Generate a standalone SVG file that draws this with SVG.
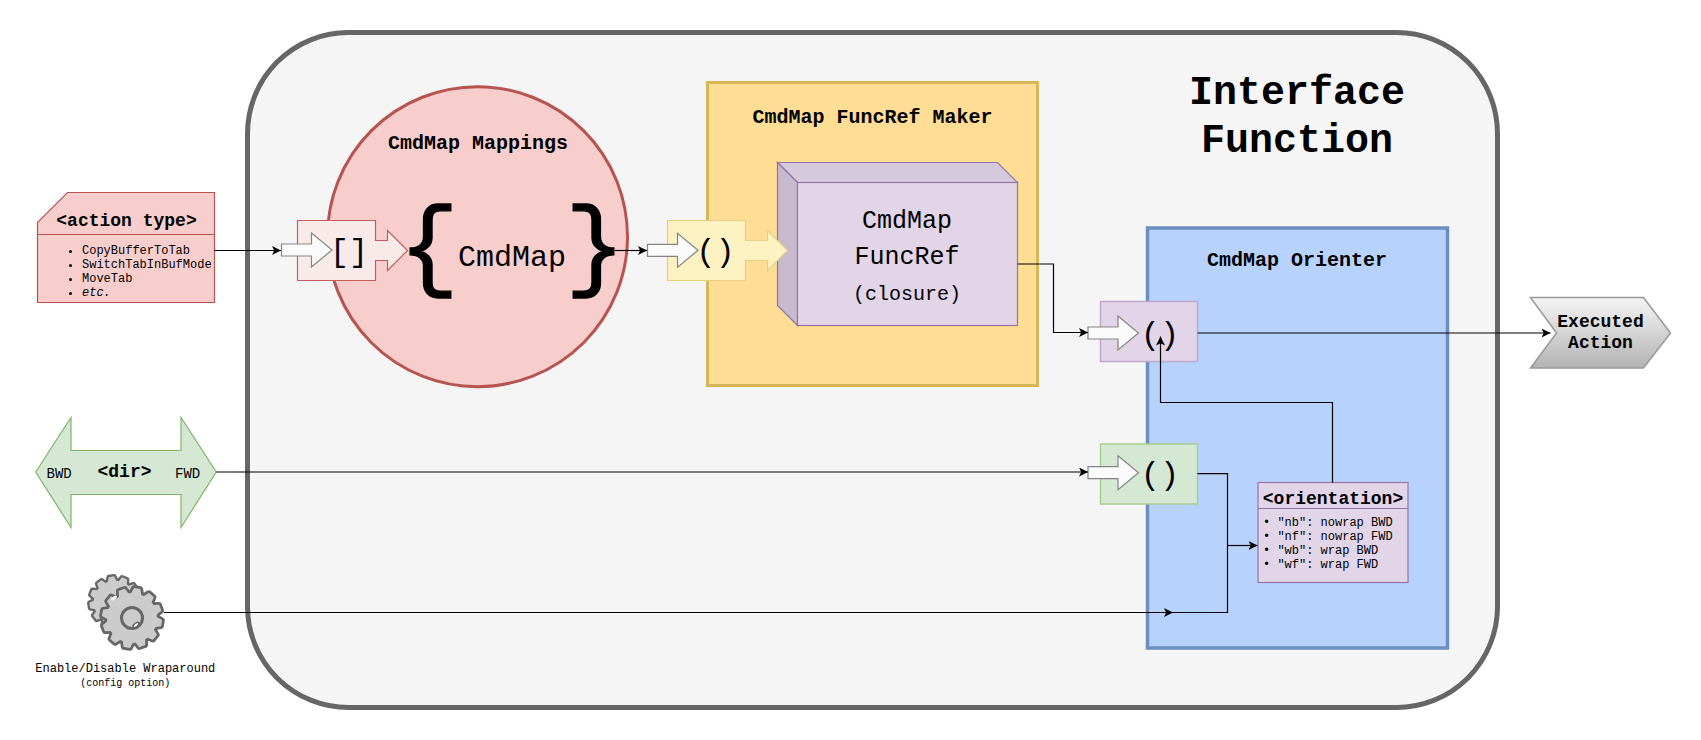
<svg xmlns="http://www.w3.org/2000/svg" xmlns:xlink="http://www.w3.org/1999/xlink" width="1701" height="740" viewBox="0 0 1701 740">
<style>
text{font-family:"Liberation Mono",monospace;fill:#000}
.b{font-weight:bold}
.m{text-anchor:middle}
.s{font-size:12px}
.h{font-size:18px;font-weight:bold}
.t{font-size:20px;font-weight:bold;text-anchor:middle}
.br{font-size:100px;text-anchor:middle;stroke:#000;stroke-width:1.3}
.c{fill:none;stroke:#000;stroke-width:1.2}
.a{marker-end:url(#ah)}
.w{fill:#fbfbfb;stroke:#858585;stroke-width:1.2}
.gs{fill:#666;stroke:#666;stroke-width:5.5;stroke-linejoin:round}
.gf{fill:#ccc;stroke:none}
</style>
<defs>
<marker id="ah" markerUnits="userSpaceOnUse" markerWidth="9" markerHeight="9" refX="9" refY="4.5" orient="auto" viewBox="0 0 9 9"><path d="M9,4.5 L0,0 L2.2,4.5 L0,9 z" fill="#000"/></marker>
<linearGradient id="grey" x1="0" y1="0" x2="0" y2="1"><stop offset="0" stop-color="#f5f5f5"/><stop offset="1" stop-color="#b3b3b3"/></linearGradient>
<polygon id="white-arrow" points="0,-6 30,-6 30,-17 50.5,0 30,17 30,6 0,6"/>
<polygon id="tooth" points="-5.2,-24 -3.2,-30 3.2,-30 5.2,-24"/>
<g id="gear12">
<circle r="25"/>
<use href="#tooth" transform="rotate(10)"/><use href="#tooth" transform="rotate(40)"/><use href="#tooth" transform="rotate(70)"/><use href="#tooth" transform="rotate(100)"/><use href="#tooth" transform="rotate(130)"/><use href="#tooth" transform="rotate(160)"/><use href="#tooth" transform="rotate(190)"/><use href="#tooth" transform="rotate(220)"/><use href="#tooth" transform="rotate(250)"/><use href="#tooth" transform="rotate(280)"/><use href="#tooth" transform="rotate(310)"/><use href="#tooth" transform="rotate(340)"/>
</g>
</defs>

<g id="interface-function">
<rect x="247.5" y="32.5" width="1250" height="675" rx="101" ry="101" fill="#f5f5f5" stroke="#666" stroke-width="5"/>
<text class="b m" font-size="40" x="1297" y="104">Interface</text>
<text class="b m" font-size="40" x="1297" y="152">Function</text>
</g>

<g id="cmdmap-mappings">
<circle cx="477.5" cy="236.7" r="150" fill="#f8cecc" stroke="#b85450" stroke-width="3"/>
<text class="t" x="478" y="149">CmdMap Mappings</text>
<text class="m" font-size="30" x="512" y="266">CmdMap</text>
<text class="br" x="429" y="277">{</text>
<text class="br" x="595" y="277">}</text>
</g>

<g id="funcref-maker">
<rect x="707.5" y="82.5" width="330" height="303" fill="#ffdd94" stroke="#d6b656" stroke-width="3"/>
<text class="t" x="872.5" y="123">CmdMap FuncRef Maker</text>
</g>

<g id="funcref-closure">
<polygon points="777.5,162.5 997.5,162.5 1017.5,182.5 797.5,182.5" fill="#d5c9dc" stroke="#9673a6" stroke-width="1.2"/>
<polygon points="777.5,162.5 797.5,182.5 797.5,325.5 777.5,305.5" fill="#c7bacd" stroke="#9673a6" stroke-width="1.2"/>
<rect x="797.5" y="182.5" width="220" height="143" fill="#e1d5e7" stroke="#9673a6" stroke-width="1.2"/>
<text class="m" font-size="25" x="907" y="228">CmdMap</text>
<text class="m" font-size="25" x="907" y="264">FuncRef</text>
<text class="m" font-size="20" x="907" y="300">(closure)</text>
</g>

<g id="orienter">
<rect x="1147.5" y="228" width="300" height="420" fill="#b7d3fd" stroke="#6c8ebf" stroke-width="3.5"/>
<text class="t" x="1297" y="266">CmdMap Orienter</text>
</g>

<g id="action-type">
<polygon points="67.5,192.5 214.5,192.5 214.5,302.5 37.5,302.5 37.5,222.5" fill="#f8cecc" stroke="#b85450" stroke-width="1.2"/>
<line x1="37.5" y1="234.5" x2="214.5" y2="234.5" stroke="#b85450" stroke-width="1.2"/>
<text class="h m" x="126.5" y="225.5">&lt;action type&gt;</text>
<circle cx="70.5" cy="251.5" r="1.5"/><circle cx="70.5" cy="265.5" r="1.5"/><circle cx="70.5" cy="279.5" r="1.5"/><circle cx="70.5" cy="293.5" r="1.5"/>
<text class="s" x="82" y="254">CopyBufferToTab</text>
<text class="s" x="82" y="268">SwitchTabInBufMode</text>
<text class="s" x="82" y="282">MoveTab</text>
<text class="s" x="82" y="296" font-style="italic">etc.</text>
</g>

<g id="dir">
<polygon points="35.7,472 71,417.5 71,450.5 181,450.5 181,417.5 216.3,472 181,527.5 181,494.5 71,494.5 71,527.5" fill="#d5e8d4" stroke="#82b366" stroke-width="1.2"/>
<text class="h m" x="124.5" y="477">&lt;dir&gt;</text>
<text font-size="14" x="46.5" y="478">BWD</text>
<text font-size="14" x="175" y="478">FWD</text>
</g>

<g id="wraparound">
<use href="#gear12" class="gs" transform="translate(115,602) scale(.85) rotate(12)"/>
<use href="#gear12" class="gf" transform="translate(115,602) scale(.85) rotate(12)"/>
<use href="#gear12" class="gs" transform="translate(132,618)"/>
<use href="#gear12" class="gf" transform="translate(132,618)"/>
<ellipse cx="114" cy="598" rx="3.5" ry="1.5" transform="rotate(-35 114 598)" fill="#f5f5f5"/>
<circle cx="132" cy="618" r="10.5" fill="#ccc" stroke="#666" stroke-width="3"/>
<ellipse cx="136" cy="625" rx="3.5" ry="1.8" transform="rotate(-40 136 625)" fill="#f5f5f5" stroke="#666" stroke-width="1.5"/>
<text class="s m" x="125.3" y="671.5">Enable/Disable Wraparound</text>
<text class="m" font-size="10" x="125.3" y="686">(config option)</text>
</g>

<g id="executed-action">
<polygon points="1530.5,297.5 1643.5,297.5 1670.5,333 1643.5,368 1530.5,368 1556.5,333" fill="url(#grey)" stroke="#999" stroke-width="1.5"/>
<text class="h m" x="1600.5" y="327">Executed</text>
<text class="h m" x="1600.5" y="348">Action</text>
</g>

<g id="orientation">
<rect x="1258" y="482.5" width="150" height="100" fill="#e1d5e7" stroke="#9673a6" stroke-width="1.2"/>
<line x1="1258" y1="508.5" x2="1408" y2="508.5" stroke="#9673a6" stroke-width="1.2"/>
<text class="h m" x="1333" y="503.5">&lt;orientation&gt;</text>
<text class="s" x="1263" y="526">• "nb": nowrap BWD</text>
<text class="s" x="1263" y="540">• "nf": nowrap FWD</text>
<text class="s" x="1263" y="554">• "wb": wrap BWD</text>
<text class="s" x="1263" y="568">• "wf": wrap FWD</text>
</g>

<g id="index-op">
<polygon points="297.5,220.5 375.5,220.5 375.5,240.5 387.5,240.5 387.5,230.5 407.5,250.5 387.5,270.5 387.5,260.5 375.5,260.5 375.5,280.5 297.5,280.5" fill="#f9eaea" stroke="#c25f5b" stroke-width="1.2"/>
<use href="#white-arrow" class="w" transform="translate(281.5,250)"/>
<text class="m" font-size="32" x="349" y="261">[]</text>
</g>

<g id="call-op">
<polygon points="667.5,220.5 745.5,220.5 745.5,240.5 767.5,240.5 767.5,230.5 787.5,250.5 767.5,270.5 767.5,260.5 745.5,260.5 745.5,280.5 667.5,280.5" fill="#fff2c2" stroke="#e6cf7e" stroke-width="1.2"/>
<use href="#white-arrow" class="w" transform="translate(647.5,250.3)"/>
<text class="m" font-size="32" x="715.5" y="261">()</text>
</g>

<g id="orient-call">
<rect x="1100.5" y="301.5" width="97" height="60" fill="#e1d5e7" stroke="#c0a8cc" stroke-width="1.5"/>
<use href="#white-arrow" class="w" transform="translate(1088,333)"/>
<text class="m" font-size="32" x="1160" y="344">()</text>
</g>

<g id="dir-call">
<rect x="1100.5" y="444" width="97" height="60" fill="#d5e8d4" stroke="#a8cc90" stroke-width="1.5"/>
<use href="#white-arrow" class="w" transform="translate(1088,472.7)"/>
<text class="m" font-size="32" x="1160" y="484">()</text>
</g>

<g id="connectors">
<path class="c a" d="M214.5,250.5 H281"/>
<path class="c a" d="M615,250.5 H647"/>
<path class="c a" d="M1017.5,264 H1053.5 V332.5 H1088"/>
<path class="c a" d="M216.3,472 H1088"/>
<path class="c a" d="M1197.5,333 H1550.5"/>
<path class="c a" d="M1332.5,482.5 V402.5 H1160.5 V336.5"/>
<path class="c" d="M1197.5,473.7 H1227.5 V612.5 H1173"/>
<path class="c a" d="M1227.5,545.5 H1257.5"/>
<path class="c a" d="M164,612.5 H1173"/>
</g>
</svg>
